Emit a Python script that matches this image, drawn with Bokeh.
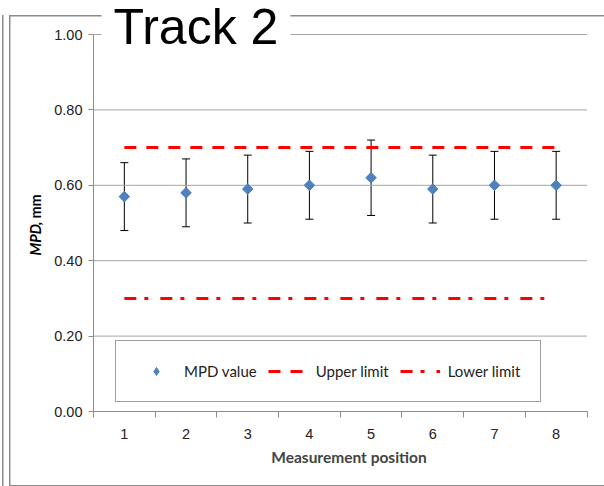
import numpy as np
from bokeh.plotting import figure
from bokeh.layouts import row
from bokeh.models import (ColumnDataSource, Whisker, TeeHead, Legend, LegendItem,
                          FixedTicker, Label, CustomJSTickFormatter)
from bokeh.embed import file_html
from bokeh.resources import INLINE

# Measurement data
positions = [1, 2, 3, 4, 5, 6, 7, 8]
mpd_value = [0.57, 0.58, 0.59, 0.60, 0.62, 0.59, 0.60, 0.60]
err_upper = [0.66, 0.67, 0.68, 0.69, 0.72, 0.68, 0.69, 0.69]
err_lower = [0.48, 0.49, 0.50, 0.51, 0.52, 0.50, 0.51, 0.51]
upper_limit = 0.70
lower_limit = 0.30
y_ticks = [0.0, 0.2, 0.4, 0.6, 0.8, 1.0]

# page / plot geometry (pixels)
W, H = 604, 486
side_w = 45                          # strip holding the y-axis title
main_w = W - side_w
left_px, bottom_px = 48, 75          # space for the axes of the main plot
plot_w_px, plot_h_px = 493.5, 377    # size of the 0.5..8.5 x 0..1 area
x_lo, x_hi = positions[0] - 0.5, positions[-1] + 0.5
y_lo, y_hi = y_ticks[0], y_ticks[-1]
frame_w, frame_h = main_w - left_px, H - bottom_px
x_end = x_lo + (x_hi - x_lo) * frame_w / plot_w_px
y_end = y_lo + (y_hi - y_lo) * frame_h / plot_h_px

line = "linear-gradient(#8C8C8C, #8C8C8C)"

# ---- left strip: chart-area frame edge and the y-axis title ----
side = figure(width=side_w, height=H, output_backend="svg", toolbar_location=None,
              x_axis_type=None, y_axis_type=None, min_border=0)
side.title.visible = False
side.outline_line_color = None
side.grid.grid_line_color = None
side.background_fill_alpha = 0
side.border_fill_alpha = 0
side.styles = {
    "background-color": "white",
    "background-image": ", ".join([line] * 4),
    "background-size": "1.5px 480px, 1.5px 480px, 40px 1.5px, 40px 1.5px",
    "background-position": "2px 15px, 9px 15px, 9px 15px, 9px 484.5px",
    "background-repeat": "no-repeat",
}
side.add_layout(Label(x=35, y=255, x_units="canvas", y_units="canvas", text="MPD",
                      angle=np.pi / 2, text_font="Lato", text_font_style="bold italic",
                      text_font_size="14.5px", text_align="left", text_baseline="alphabetic",
                      text_color="black"))
side.add_layout(Label(x=35, y=225, x_units="canvas", y_units="canvas", text=", mm",
                      angle=np.pi / 2, text_font="Lato", text_font_style="bold",
                      text_font_size="14.5px", text_align="left", text_baseline="alphabetic",
                      text_color="black"))

# ---- main plot ----
p = figure(width=main_w, height=H, output_backend="svg", toolbar_location=None,
           x_range=(x_lo, x_end), y_range=(y_lo, y_end),
           min_border_left=left_px, min_border_right=0, min_border_top=0,
           min_border_bottom=bottom_px)
p.title.visible = False
p.outline_line_color = None
p.background_fill_alpha = 0
p.border_fill_alpha = 0
p.styles = {
    "background-color": "white",
    "background-image": ", ".join([line] * 2),
    "background-size": "600px 1.5px, 600px 1.5px",
    "background-position": "0px 15px, 0px 484.5px",
    "background-repeat": "no-repeat",
}

src = ColumnDataSource(dict(x=positions, y=mpd_value, upper=err_upper, lower=err_lower))

# horizontal grid lines, limited to the category span
p.segment(x0=[x_lo] * len(y_ticks), x1=[x_hi] * len(y_ticks), y0=y_ticks, y1=y_ticks,
          line_color="#A6A6A6", line_width=1)

# limit lines
up = p.line(x=[positions[0], positions[-1]], y=[upper_limit, upper_limit],
            line_color="#FF0000", line_width=3, line_dash="12 10")
lo = p.line(x=[positions[0], positions[-1]], y=[lower_limit, lower_limit],
            line_color="#FF0000", line_width=3, line_dash="12 8 4 12")

# error bars
whisk = Whisker(source=src, base="x", upper="upper", lower="lower",
                line_color="black", line_width=1,
                upper_head=TeeHead(size=8, line_color="black", line_width=1),
                lower_head=TeeHead(size=8, line_color="black", line_width=1))
p.add_layout(whisk)

# legend symbol (a diamond hidden under the first point)
key = p.scatter(x=positions[:1], y=mpd_value[:1], marker="diamond", size=9,
                fill_color="#4F81BD", line_color="#4F81BD")
pts = p.scatter(x="x", y="y", source=src, marker="square", angle=np.pi / 4, size=7.5,
                fill_color="#4F81BD", line_color="#4F81BD")

# axes
grey = "#8C8C8C"
p.xgrid.grid_line_color = None
p.ygrid.grid_line_color = None

p.yaxis.ticker = FixedTicker(ticks=y_ticks)
p.yaxis.bounds = (y_lo, y_hi)
p.yaxis.formatter = CustomJSTickFormatter(code="return tick.toFixed(2);")
p.yaxis.axis_line_color = grey
p.yaxis.major_tick_line_color = grey
p.yaxis.major_tick_out = 5
p.yaxis.major_tick_in = 0
p.yaxis.minor_tick_line_color = None
p.yaxis.major_label_standoff = 6
p.yaxis.major_label_text_font = "Liberation Sans"
p.yaxis.major_label_text_font_size = "14.5px"
p.yaxis.major_label_text_color = "#222222"

p.xaxis.ticker = FixedTicker(ticks=positions,
                             minor_ticks=[v - 0.5 for v in positions] + [positions[-1] + 0.5])
p.xaxis.bounds = (x_lo, x_hi)
p.xaxis.axis_line_color = grey
p.xaxis.major_tick_line_color = None
p.xaxis.major_tick_out = 0
p.xaxis.major_tick_in = 0
p.xaxis.minor_tick_line_color = grey
p.xaxis.minor_tick_out = 6
p.xaxis.minor_tick_in = 0
p.xaxis.major_label_standoff = 11
p.xaxis.major_label_text_font = "Liberation Sans"
p.xaxis.major_label_text_font_size = "14.5px"
p.xaxis.major_label_text_color = "#222222"
p.xaxis.axis_label = "Measurement position"
p.xaxis.axis_label_text_font = "Lato"
p.xaxis.axis_label_text_font_style = "bold"
p.xaxis.axis_label_text_font_size = "15.5px"
p.xaxis.axis_label_standoff = 6

# legend
legend = Legend(items=[LegendItem(label="MPD value", renderers=[key]),
                       LegendItem(label="Upper limit", renderers=[up]),
                       LegendItem(label="Lower limit", renderers=[lo])],
                orientation="horizontal", location=(22, 9),
                glyph_width=40, glyph_height=20, label_standoff=8, spacing=11,
                padding=20, margin=0,
                label_text_font="Lato", label_text_font_size="15px",
                label_text_color="#222222",
                border_line_color="#404040", border_line_width=1,
                background_fill_color="white", background_fill_alpha=1)
p.add_layout(legend)

# title, with a white box that breaks the frame line behind it
p.add_layout(Label(x=56, y=26, x_units="canvas", y_units="canvas", text="Track 2",
                   level="overlay", text_font="Liberation Sans", text_font_size="50px",
                   text_align="left", text_baseline="alphabetic", text_color="black",
                   background_fill_color="white", padding=12))

open("out.html", "w").write(file_html(row(side, p, spacing=0), INLINE))
